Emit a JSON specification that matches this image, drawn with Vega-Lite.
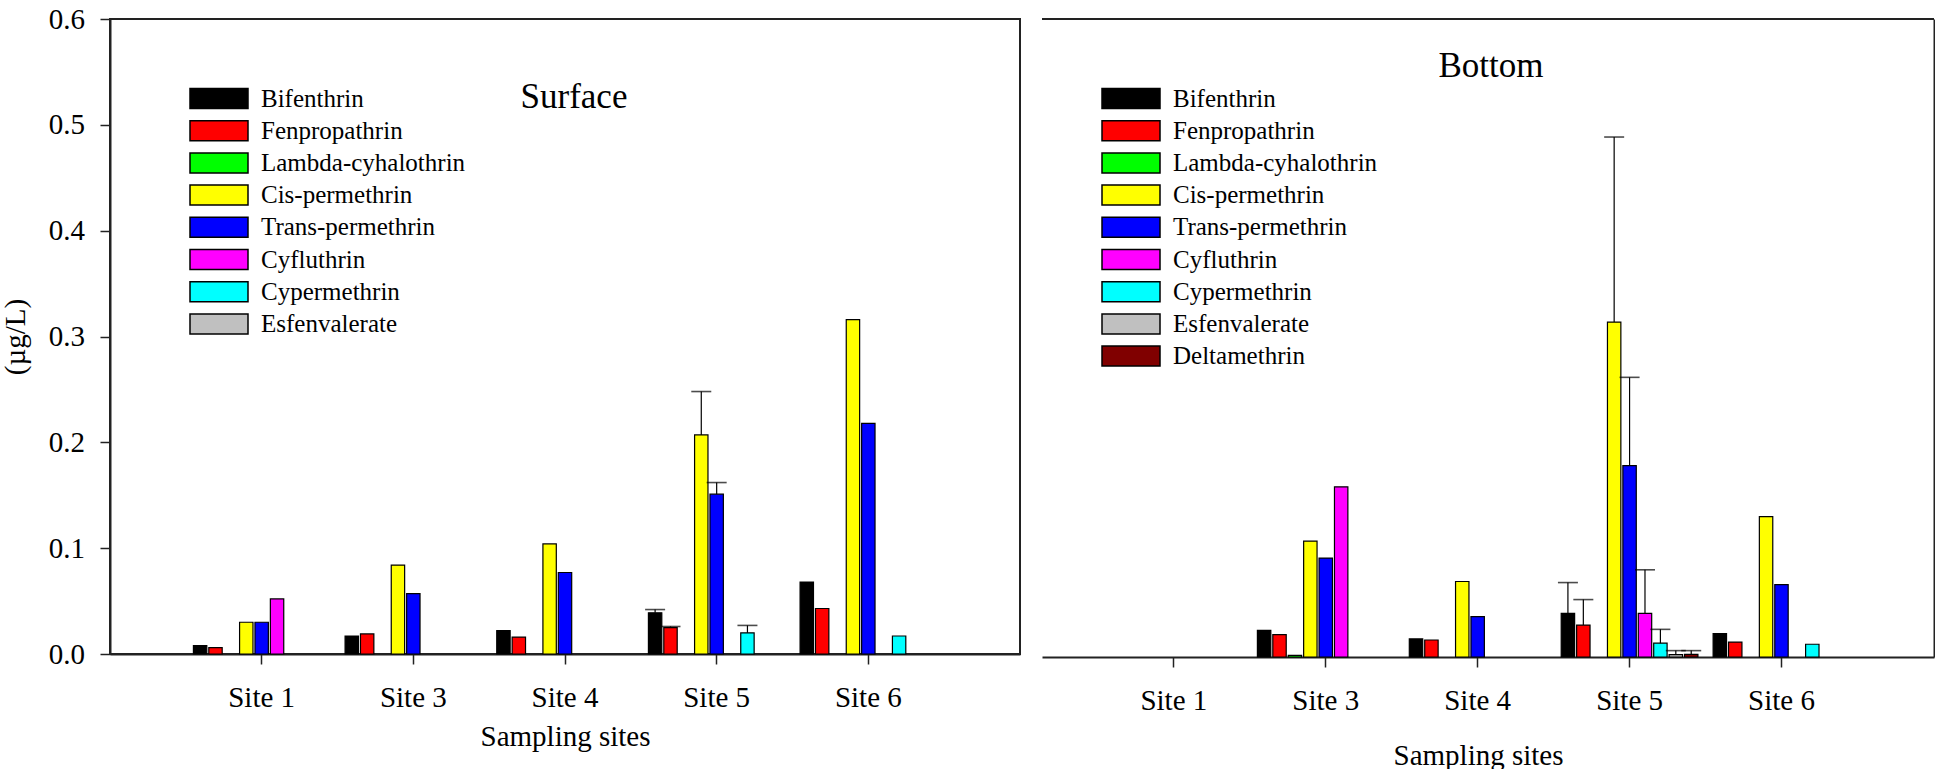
{
  "$schema": "https://vega.github.io/schema/vega-lite/v6.json",
  "padding": {"left": 0, "top": 4, "right": 0, "bottom": 0},
  "background": "white",
  "bounds": "flush",
  "spacing": 22,
  "config": {
    "font": "Liberation Serif",
    "view": {"stroke": "#222", "strokeWidth": 2},
    "axis": {
      "grid": false,
      "domainColor": "#222",
      "domainWidth": 2,
      "tickColor": "#222",
      "tickWidth": 1.5,
      "tickSize": 10,
      "labelFont": "Liberation Serif",
      "labelFontSize": 29,
      "labelColor": "black",
      "titleFont": "Liberation Serif",
      "titleFontSize": 29,
      "titleFontWeight": "normal",
      "titleColor": "black"
    },
    "axisX": {"labelAngle": 0, "labelPadding": 19, "titlePadding": 10},
    "axisY": {"labelPadding": 15.5},
    "legend": {
      "orient": "none",
      "labelFont": "Liberation Serif",
      "labelFontSize": 25,
      "labelColor": "black",
      "labelLimit": 0,
      "rowPadding": 3.2,
      "labelOffset": 26.5,
      "padding": 0
    },
    "title": {
      "font": "Liberation Serif",
      "fontSize": 35,
      "fontWeight": "normal",
      "color": "black",
      "anchor": "middle",
      "frame": "group",
      "baseline": "alphabetic",
      "offset": 0
    }
  },
  "datasets": {
    "surface": [
      {"site": "Site 1", "series": "Bifenthrin", "value": 0.008},
      {"site": "Site 1", "series": "Fenpropathrin", "value": 0.006},
      {"site": "Site 1", "series": "Cis-permethrin", "value": 0.030},
      {"site": "Site 1", "series": "Trans-permethrin", "value": 0.030},
      {"site": "Site 1", "series": "Cyfluthrin", "value": 0.052},
      {"site": "Site 3", "series": "Bifenthrin", "value": 0.017},
      {"site": "Site 3", "series": "Fenpropathrin", "value": 0.019},
      {"site": "Site 3", "series": "Cis-permethrin", "value": 0.084},
      {"site": "Site 3", "series": "Trans-permethrin", "value": 0.057},
      {"site": "Site 4", "series": "Bifenthrin", "value": 0.022},
      {"site": "Site 4", "series": "Fenpropathrin", "value": 0.016},
      {"site": "Site 4", "series": "Cis-permethrin", "value": 0.104},
      {"site": "Site 4", "series": "Trans-permethrin", "value": 0.077},
      {"site": "Site 5", "series": "Bifenthrin", "value": 0.039},
      {"site": "Site 5", "series": "Fenpropathrin", "value": 0.025},
      {"site": "Site 5", "series": "Cis-permethrin", "value": 0.207},
      {"site": "Site 5", "series": "Trans-permethrin", "value": 0.151},
      {"site": "Site 5", "series": "Cypermethrin", "value": 0.020},
      {"site": "Site 6", "series": "Bifenthrin", "value": 0.068},
      {"site": "Site 6", "series": "Fenpropathrin", "value": 0.043},
      {"site": "Site 6", "series": "Cis-permethrin", "value": 0.316},
      {"site": "Site 6", "series": "Trans-permethrin", "value": 0.218},
      {"site": "Site 6", "series": "Cypermethrin", "value": 0.017}
    ],
    "surfaceErr": [
      {"site": "Site 5", "series": "Bifenthrin", "value": 0.039, "hi": 0.042},
      {"site": "Site 5", "series": "Fenpropathrin", "value": 0.025, "hi": 0.026},
      {"site": "Site 5", "series": "Cis-permethrin", "value": 0.207, "hi": 0.248},
      {"site": "Site 5", "series": "Trans-permethrin", "value": 0.151, "hi": 0.162},
      {"site": "Site 5", "series": "Cypermethrin", "value": 0.020, "hi": 0.027}
    ],
    "bottom": [
      {"site": "Site 3", "series": "Bifenthrin", "value": 0.025},
      {"site": "Site 3", "series": "Fenpropathrin", "value": 0.021},
      {"site": "Site 3", "series": "Lambda-cyhalothrin", "value": 0.0016},
      {"site": "Site 3", "series": "Cis-permethrin", "value": 0.109},
      {"site": "Site 3", "series": "Trans-permethrin", "value": 0.093},
      {"site": "Site 3", "series": "Cyfluthrin", "value": 0.160},
      {"site": "Site 4", "series": "Bifenthrin", "value": 0.017},
      {"site": "Site 4", "series": "Fenpropathrin", "value": 0.016},
      {"site": "Site 4", "series": "Cis-permethrin", "value": 0.071},
      {"site": "Site 4", "series": "Trans-permethrin", "value": 0.038},
      {"site": "Site 5", "series": "Bifenthrin", "value": 0.041},
      {"site": "Site 5", "series": "Fenpropathrin", "value": 0.030},
      {"site": "Site 5", "series": "Cis-permethrin", "value": 0.315},
      {"site": "Site 5", "series": "Trans-permethrin", "value": 0.180},
      {"site": "Site 5", "series": "Cyfluthrin", "value": 0.041},
      {"site": "Site 5", "series": "Cypermethrin", "value": 0.013},
      {"site": "Site 5", "series": "Esfenvalerate", "value": 0.0022},
      {"site": "Site 5", "series": "Deltamethrin", "value": 0.0025},
      {"site": "Site 6", "series": "Bifenthrin", "value": 0.022},
      {"site": "Site 6", "series": "Fenpropathrin", "value": 0.014},
      {"site": "Site 6", "series": "Cis-permethrin", "value": 0.132},
      {"site": "Site 6", "series": "Trans-permethrin", "value": 0.068},
      {"site": "Site 6", "series": "Cypermethrin", "value": 0.012}
    ],
    "bottomErr": [
      {"site": "Site 5", "series": "Bifenthrin", "value": 0.041, "hi": 0.070},
      {"site": "Site 5", "series": "Fenpropathrin", "value": 0.030, "hi": 0.054},
      {"site": "Site 5", "series": "Cis-permethrin", "value": 0.315, "hi": 0.489},
      {"site": "Site 5", "series": "Trans-permethrin", "value": 0.180, "hi": 0.263},
      {"site": "Site 5", "series": "Cyfluthrin", "value": 0.041, "hi": 0.082},
      {"site": "Site 5", "series": "Cypermethrin", "value": 0.013, "hi": 0.026},
      {"site": "Site 5", "series": "Esfenvalerate", "value": 0.0022, "hi": 0.006},
      {"site": "Site 5", "series": "Deltamethrin", "value": 0.0025, "hi": 0.006}
    ]
  },
  "resolve": {
    "scale": {"x": "independent", "y": "independent", "xOffset": "independent", "color": "independent"},
    "legend": {"color": "independent"}
  },
  "hconcat": [
    {
      "width": 910,
      "height": 635,
      "title": {"text": "Surface", "dx": 9, "dy": 113.7},
      "layer": [
        {
          "data": {"name": "surface"},
          "mark": {"type": "bar", "stroke": "black", "strokeWidth": 1.2},
          "encoding": {
            "x": {
              "field": "site", "type": "nominal",
              "scale": {"domain": ["Site 1", "Site 3", "Site 4", "Site 5", "Site 6"], "paddingInner": 0.1, "paddingOuter": 0.55, "align": 0.5},
              "axis": {"title": "Sampling sites"}
            },
            "xOffset": {
              "field": "series", "type": "nominal",
              "scale": {"domain": ["Bifenthrin", "Fenpropathrin", "Lambda-cyhalothrin", "Cis-permethrin", "Trans-permethrin", "Cyfluthrin", "Cypermethrin", "Esfenvalerate", "Deltamethrin"], "paddingInner": 0.13, "paddingOuter": 0}
            },
            "y": {
              "field": "value", "type": "quantitative",
              "scale": {"domain": [0, 0.6], "nice": false},
              "axis": {"values": [0, 0.1, 0.2, 0.3, 0.4, 0.5, 0.6], "format": ".1f", "title": "(µg/L)", "titleX": -86, "titleBaseline": "alphabetic"}
            },
            "color": {
              "field": "series", "type": "nominal",
              "scale": {
                "domain": ["Bifenthrin", "Fenpropathrin", "Lambda-cyhalothrin", "Cis-permethrin", "Trans-permethrin", "Cyfluthrin", "Cypermethrin", "Esfenvalerate"],
                "range": ["#000000", "#ff0000", "#00ff00", "#ffff00", "#0000ff", "#ff00ff", "#00ffff", "#c0c0c0"]
              },
              "legend": {
                "title": null, "legendX": 93.5, "legendY": 64,
                "symbolType": "M-2,-0.69H2V0.69H-2Z", "symbolSize": 841,
                "symbolStrokeColor": "black", "symbolStrokeWidth": 1.5, "symbolOpacity": 1
              }
            }
          }
        },
        {
          "data": {"name": "surfaceErr"},
          "mark": {"type": "rule", "color": "black", "strokeWidth": 1.2},
          "encoding": {
            "x": {"field": "site", "type": "nominal"},
            "xOffset": {"field": "series", "type": "nominal"},
            "y": {"field": "value", "type": "quantitative"},
            "y2": {"field": "hi"}
          }
        },
        {
          "data": {"name": "surfaceErr"},
          "mark": {"type": "tick", "color": "black", "thickness": 1.6, "size": 20, "orient": "horizontal"},
          "encoding": {
            "x": {"field": "site", "type": "nominal"},
            "xOffset": {"field": "series", "type": "nominal"},
            "y": {"field": "hi", "type": "quantitative"}
          }
        }
      ]
    },
    {
      "width": 892,
      "height": 638,
      "view": {"stroke": null},
      "title": {"text": "Bottom", "dx": 3, "dy": 70},
      "layer": [
        {
          "data": {"name": "bottom"},
          "mark": {"type": "bar", "stroke": "black", "strokeWidth": 1.2},
          "encoding": {
            "x": {
              "field": "site", "type": "nominal",
              "scale": {"domain": ["Site 1", "Site 3", "Site 4", "Site 5", "Site 6"], "paddingInner": 0.1, "paddingOuter": 0.486, "align": 0.43},
              "axis": {"title": "Sampling sites", "titleX": 436, "titlePadding": 26}
            },
            "xOffset": {
              "field": "series", "type": "nominal",
              "scale": {"domain": ["Bifenthrin", "Fenpropathrin", "Lambda-cyhalothrin", "Cis-permethrin", "Trans-permethrin", "Cyfluthrin", "Cypermethrin", "Esfenvalerate", "Deltamethrin"], "paddingInner": 0.13, "paddingOuter": 0}
            },
            "y": {
              "field": "value", "type": "quantitative",
              "scale": {"domain": [0, 0.6], "nice": false},
              "axis": {"orient": "right", "domain": true, "ticks": false, "labels": false, "title": null}
            },
            "color": {
              "field": "series", "type": "nominal",
              "scale": {
                "domain": ["Bifenthrin", "Fenpropathrin", "Lambda-cyhalothrin", "Cis-permethrin", "Trans-permethrin", "Cyfluthrin", "Cypermethrin", "Esfenvalerate", "Deltamethrin"],
                "range": ["#000000", "#ff0000", "#00ff00", "#ffff00", "#0000ff", "#ff00ff", "#00ffff", "#c0c0c0", "#800000"]
              },
              "legend": {
                "title": null, "legendX": 73.5, "legendY": 64,
                "symbolType": "M-2,-0.69H2V0.69H-2Z", "symbolSize": 841,
                "symbolStrokeColor": "black", "symbolStrokeWidth": 1.5, "symbolOpacity": 1
              }
            }
          }
        },
        {
          "data": {"values": [{}]},
          "mark": {"type": "rule", "color": "#222", "strokeWidth": 2},
          "encoding": {"y": {"datum": 0.6}}
        },
        {
          "data": {"name": "bottomErr"},
          "mark": {"type": "rule", "color": "black", "strokeWidth": 1.2},
          "encoding": {
            "x": {"field": "site", "type": "nominal"},
            "xOffset": {"field": "series", "type": "nominal"},
            "y": {"field": "value", "type": "quantitative"},
            "y2": {"field": "hi"}
          }
        },
        {
          "data": {"name": "bottomErr"},
          "mark": {"type": "tick", "color": "black", "thickness": 1.6, "size": 20, "orient": "horizontal"},
          "encoding": {
            "x": {"field": "site", "type": "nominal"},
            "xOffset": {"field": "series", "type": "nominal"},
            "y": {"field": "hi", "type": "quantitative"}
          }
        }
      ]
    }
  ]
}
